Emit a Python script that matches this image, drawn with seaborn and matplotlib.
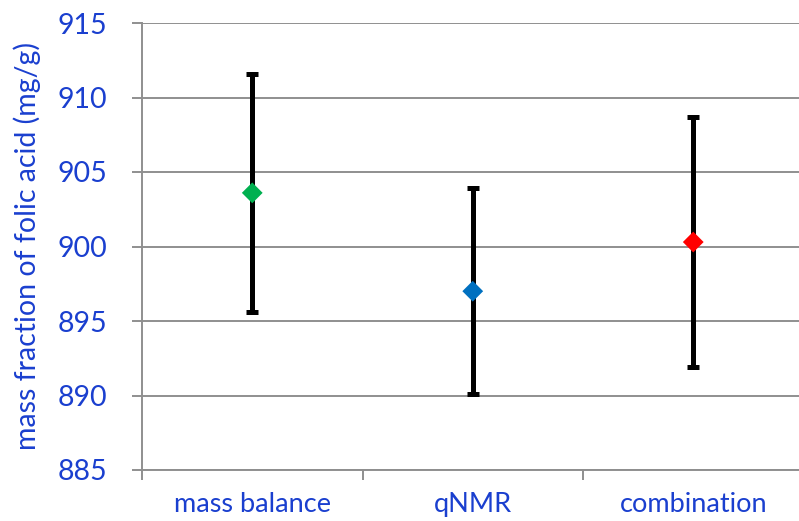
import numpy as np
import pandas as pd
import matplotlib
matplotlib.use("Agg")
import matplotlib.pyplot as plt
import seaborn as sns

# values
methods = ["mass balance", "qNMR", "combination"]
values = [903.6, 897.0, 900.3]
uncert = [8.0, 6.9, 8.4]
colors = ["#00B050", "#0070C0", "#FF0000"]

text_blue = "#1a3fcf"
grid_grey = "#8f8f8f"

sns.set_theme(style="white")
plt.rcParams['font.family'] = ['Lato', 'DejaVu Sans']

df = pd.DataFrame({"method": methods, "value": values, "U": uncert})

fig = plt.figure(figsize=(7.99, 5.21), dpi=100, facecolor="w")
ax = fig.add_axes([142/799, 1 - 470/521, (803.5 - 142)/799, (470 - 23)/521])

xpos = np.arange(len(methods))
ax.errorbar(xpos, df["value"], yerr=df["U"], fmt="none", ecolor="black",
            elinewidth=3.6, capsize=4.3, capthick=3.6, zorder=2)
sns.scatterplot(data=df, x="method", y="value", hue="method", palette=colors,
                marker="D", s=112, edgecolor="none", legend=False, zorder=3, ax=ax)

ax.set_xlim(-0.5, 2.5)
ax.set_ylim(885, 915)
ax.set_yticks(np.arange(885, 916, 5))
ax.yaxis.grid(True, color=grid_grey, linewidth=1.4)
ax.set_axisbelow(True)

ax.set_xticks(xpos)
ax.set_xticklabels(methods)
ax.set_xticks([-0.5, 0.5, 1.5, 2.5], minor=True)
ax.tick_params(axis="x", which="major", length=0, pad=16, labelsize=19.5, labelcolor=text_blue)
ax.tick_params(axis="x", which="minor", bottom=True, length=7, width=1.4, color=grid_grey, direction="out")
ax.tick_params(axis="y", left=True, length=7, width=1.4, color=grid_grey, direction="out",
               labelsize=20.5, labelcolor=text_blue, pad=18)

ax.set_xlabel("")
ax.set_ylabel("mass fraction of folic acid (mg/g)", fontsize=20.5, color=text_blue, labelpad=12)

for s in ["top", "right"]:
    ax.spines[s].set_visible(False)
for s in ["left", "bottom"]:
    ax.spines[s].set_color(grid_grey)
    ax.spines[s].set_linewidth(1.4)

fig.savefig("out.png", dpi=100, facecolor="w")
